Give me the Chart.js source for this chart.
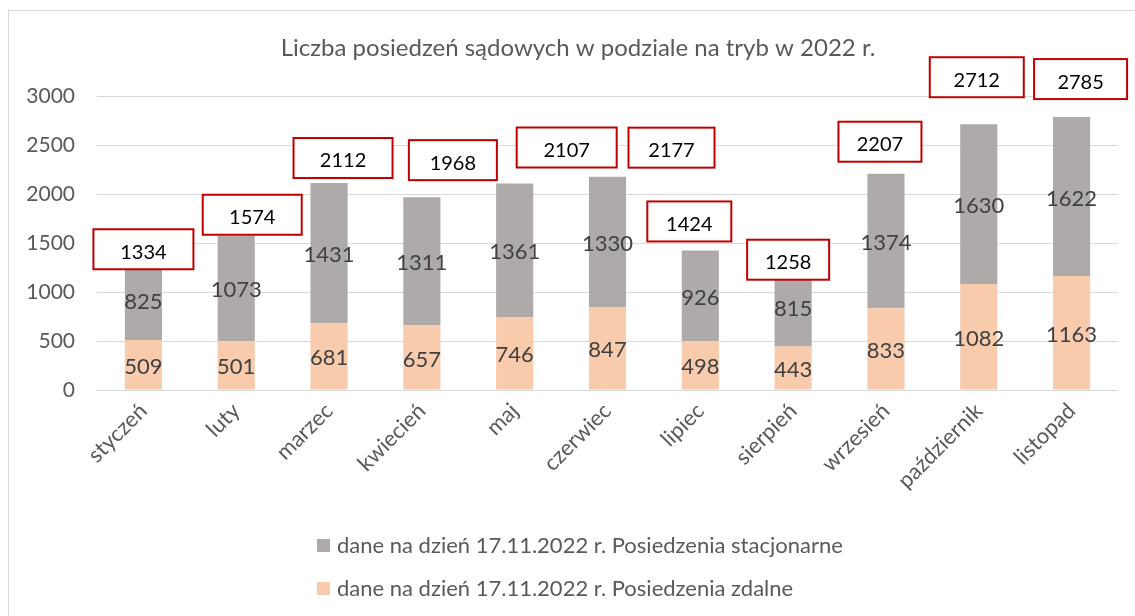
<!DOCTYPE html>
<html lang="pl">
<head>
<meta charset="utf-8">
<title>Liczba posiedzeń sądowych</title>
<script src="https://cdn.jsdelivr.net/npm/chart.js@4/dist/chart.umd.min.js"></script>
<style>
  html, body { margin: 0; padding: 0; background: #fff; }
  #wrap { width: 1135px; height: 616px; position: relative; }
</style>
</head>
<body>
<div id="wrap"><canvas id="chart"></canvas></div>
<script>
// Data
const months = ['styczeń', 'luty', 'marzec', 'kwiecień', 'maj', 'czerwiec',
  'lipiec', 'sierpień', 'wrzesień', 'październik', 'listopad'];
const remote = [509, 501, 681, 657, 746, 847, 498, 443, 833, 1082, 1163];
const onsite = [825, 1073, 1431, 1311, 1361, 1330, 926, 815, 1374, 1630, 1622];
const totals = [1334, 1574, 2112, 1968, 2107, 2177, 1424, 1258, 2207, 2712, 2785];
const yTicks = [0, 500, 1000, 1500, 2000, 2500, 3000];
const remoteLabel = 'dane na dzień 17.11.2022 r. Posiedzenia zdalne';
const onsiteLabel = 'dane na dzień 17.11.2022 r. Posiedzenia stacjonarne';
const chartTitle = 'Liczba posiedzeń sądowych w podziale na tryb w 2022 r.';

// Callout boxes were dragged by hand in the original: nudge (px) from bar top / centre
const boxDx = [0, 16, 14, 31, 52, 64, -11, -5, -6, -2, 9];
const boxDy = [10, -1, -5, -17, -16, -9, -9, 13, -12, -27, -18];
const boxW = [100, 99, 99, 88, 100, 86, 84, 82, 83, 94, 93];

const FONT = 'Lato, "Open Sans", sans-serif';
const GREY = '#AEAAAA';
const PEACH = '#F8CBAD';
const TEXT = '#595959';

const extras = {
  id: 'extras',
  afterDatasetsDraw(chart) {
    const ctx = chart.ctx;
    ctx.save();
    ctx.font = '22px ' + FONT;
    ctx.fillStyle = '#404040';
    ctx.textAlign = 'center';
    ctx.textBaseline = 'middle';
    chart.data.datasets.forEach((ds, i) => {
      chart.getDatasetMeta(i).data.forEach((bar, j) => {
        ctx.fillText(String(ds.data[j]), bar.x, (bar.y + bar.base) / 2 + 2);
      });
    });

    // total callouts
    const y = chart.scales.y;
    const x = chart.scales.x;
    ctx.font = '20px ' + FONT;
    totals.forEach((t, j) => {
      const cx = x.getPixelForValue(j) + boxDx[j];
      const bottom = y.getPixelForValue(t) + boxDy[j];
      const w = boxW[j], h = 40;
      ctx.fillStyle = '#fff';
      ctx.fillRect(cx - w / 2, bottom - h, w, h);
      ctx.strokeStyle = '#C00000';
      ctx.lineWidth = 2;
      ctx.strokeRect(cx - w / 2, bottom - h, w, h);
      ctx.fillStyle = '#000';
      ctx.fillText(String(t), cx, bottom - h / 2 + 3);
    });
    ctx.restore();
  },
  afterDraw(chart) {
    const ctx = chart.ctx;
    ctx.save();
    // outer frame (only left/top edges are in the shot)
    ctx.strokeStyle = '#D9D9D9';
    ctx.lineWidth = 1;
    ctx.strokeRect(8.5, 10.5, 1200, 700);

    // title
    ctx.font = '24px ' + FONT;
    ctx.fillStyle = TEXT;
    ctx.textAlign = 'center';
    ctx.textBaseline = 'middle';
    ctx.fillText(chartTitle, 578, 48);

    // legend, one entry per row, top series first
    ctx.font = '22px ' + FONT;
    ctx.textAlign = 'left';
    const items = chart.data.datasets.slice().reverse();
    items.forEach((ds, i) => {
      const cy = 545 + i * 43;
      ctx.fillStyle = ds.backgroundColor;
      ctx.fillRect(317, cy - 6, 13, 13);
      ctx.fillStyle = TEXT;
      ctx.fillText(ds.label, 337, cy + 1);
    });
    ctx.restore();
  }
};

new Chart(document.getElementById('chart').getContext('2d'), {
  type: 'bar',
  data: {
    labels: months,
    datasets: [
      { label: remoteLabel, data: remote, backgroundColor: PEACH },
      { label: onsiteLabel, data: onsite, backgroundColor: GREY },
    ],
  },
  options: {
    responsive: true,
    maintainAspectRatio: false,
    animation: false,
    datasets: { bar: { barPercentage: 0.8, categoryPercentage: 0.5 } },
    layout: { padding: { top: 96, right: 17, left: 0, bottom: 0 } },
    plugins: {
      legend: { display: false },
      title: { display: false },
      tooltip: { enabled: false },
    },
    scales: {
      x: {
        stacked: true,
        grid: { display: false, drawTicks: false },
        border: { display: false },
        ticks: {
          color: TEXT,
          font: { family: FONT, size: 22 },
          maxRotation: 45,
          minRotation: 45,
          padding: 8,
        },
        afterFit(scale) { scale.height = 226; },
      },
      y: {
        stacked: true,
        min: 0,
        max: 3000,
        afterBuildTicks(scale) { scale.ticks = yTicks.map(v => ({ value: v })); },
        grid: { color: '#D9D9D9', lineWidth: 1, drawTicks: false },
        border: { display: false },
        ticks: {
          color: TEXT,
          font: { family: FONT, size: 21 },
          padding: 22,
          callback: (v) => String(v),
        },
        afterFit(scale) { scale.width = 97; },
      },
    },
  },
  plugins: [extras],
});
</script>
</body>
</html>
